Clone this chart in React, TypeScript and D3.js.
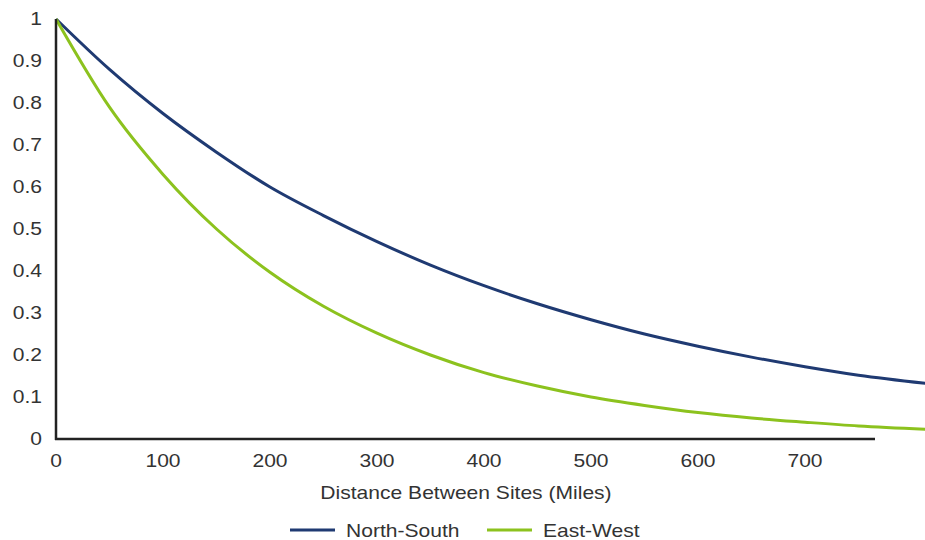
import React from "react";
import * as d3 from "d3";

const distances = [0, 50, 100, 150, 200, 250, 300, 350, 400, 450, 500, 550, 600, 650, 700, 750, 815];
const northSouth = [1.0, 0.88, 0.775, 0.683, 0.6, 0.532, 0.47, 0.414, 0.365, 0.322, 0.284, 0.25, 0.221, 0.195, 0.172, 0.152, 0.132];
const eastWest = [1.0, 0.79, 0.63, 0.5, 0.397, 0.316, 0.252, 0.2, 0.158, 0.126, 0.1, 0.08, 0.063, 0.05, 0.04, 0.031, 0.023];
const xTicks = [0, 100, 200, 300, 400, 500, 600, 700];
const yTicks = [0, 0.1, 0.2, 0.3, 0.4, 0.5, 0.6, 0.7, 0.8, 0.9, 1];
const seriesNames = ["North-South", "East-West"];
const seriesColors = ["#1f3a72", "#8cc21e"];
const xTitle = "Distance Between Sites (Miles)";

const W = 925;
const H = 540;
const FONT = "'Liberation Sans', Arial, sans-serif";
const SX = 1.17;

function T({
  x,
  y,
  anchor = "start",
  dy,
  children,
}: {
  x: number;
  y: number;
  anchor?: string;
  dy?: string;
  children: React.ReactNode;
}) {
  return (
    <text
      transform={`translate(${x},${y}) scale(${SX},1)`}
      dy={dy}
      textAnchor={anchor}
      fontSize={18}
      fill="#333"
      fontFamily={FONT}
    >
      {children}
    </text>
  );
}

export default function App() {
  const x = d3.scaleLinear().domain([0, 700]).range([56, 805]);
  const y = d3.scaleLinear().domain([0, 1]).range([439, 19]);
  const line = d3
    .line<number>()
    .x((_, i) => x(distances[i]))
    .y((v) => y(v))
    .curve(d3.curveMonotoneX);
  const series = [northSouth, eastWest];
  const legendX = [290, 487];

  return (
    <svg
      width={W}
      height={H}
      style={{ position: "absolute", left: 0, top: 0, background: "#fff" }}
    >
      <defs>
        <clipPath id="clip">
          <rect x={0} y={0} width={W} height={H} />
        </clipPath>
      </defs>
      {yTicks.map((t) => (
        <T key={"y" + t} x={42} y={y(t)} dy="0.36em" anchor="end">
          {String(t)}
        </T>
      ))}
      {xTicks.map((t) => (
        <T key={"x" + t} x={x(t)} y={467} anchor="middle">
          {String(t)}
        </T>
      ))}
      <T x={466} y={499} anchor="middle">
        {xTitle}
      </T>
      <g clipPath="url(#clip)">
        {series.map((s, i) => (
          <path
            key={seriesNames[i]}
            d={line(s) || ""}
            fill="none"
            stroke={seriesColors[i]}
            strokeWidth={3}
            strokeLinejoin="round"
          />
        ))}
      </g>
      <line x1={56} x2={56} y1={19} y2={440} stroke="#222" strokeWidth={2.5} />
      <line x1={55} x2={875} y1={439} y2={439} stroke="#222" strokeWidth={2.5} />
      {seriesNames.map((n, i) => (
        <g key={n}>
          <line
            x1={legendX[i]}
            x2={legendX[i] + 45}
            y1={530}
            y2={530}
            stroke={seriesColors[i]}
            strokeWidth={3}
          />
          <T x={legendX[i] + 56} y={537}>
            {n}
          </T>
        </g>
      ))}
    </svg>
  );
}
